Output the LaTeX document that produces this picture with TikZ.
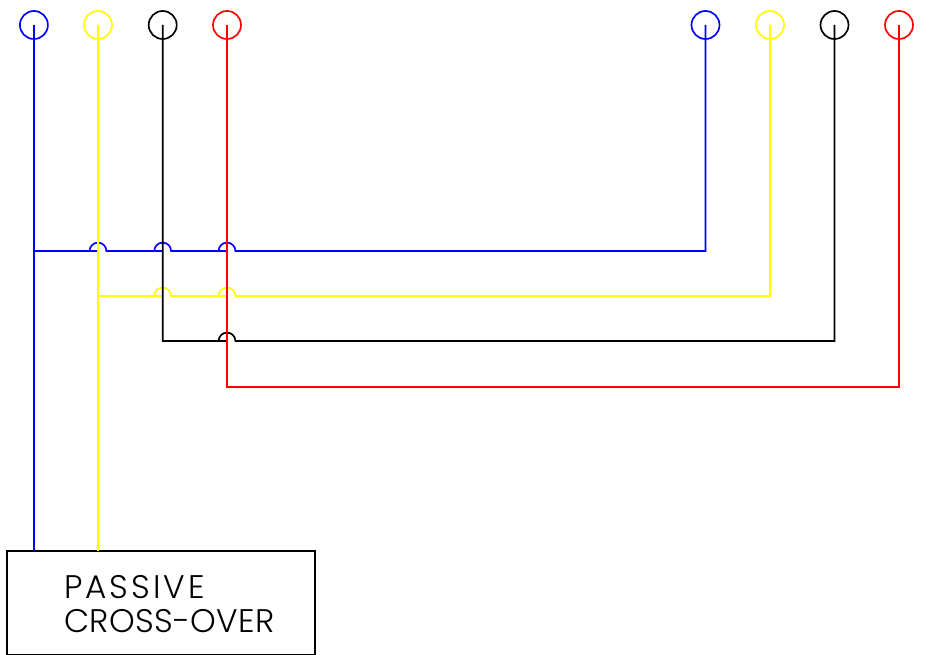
\documentclass[tikz,border=0pt]{standalone}
\usepackage{fontspec}
\setmainfont{Poppins Light}
\newfontfamily\lineA{Poppins Light}[LetterSpace=9]
\newfontfamily\lineB{Poppins Light}[LetterSpace=1]
\definecolor{wblue}{RGB}{0,0,255}
\definecolor{wyellow}{RGB}{255,255,0}
\definecolor{wred}{RGB}{255,0,0}
\tikzset{
  terminal/.style={circle,draw=#1,line width=1.25pt,minimum size=21pt,inner sep=0pt,outer sep=0pt},
  wire/.style={draw=#1,line width=1.25pt,line join=miter},
  crossbox/.style={draw=black,line width=1.25pt,minimum width=231pt,minimum height=78pt,inner sep=0pt,outer sep=0pt},
  crosslabel/.style={align=left,inner sep=0pt,font=\fontsize{24.5pt}{25.1pt}\selectfont}
}
% hop: a small half-circle step over a vertical wire
\newcommand{\hop}{-- ++(-8.4,0) arc[start angle=180,end angle=360,radius=8.4] }
\begin{document}
\begin{tikzpicture}[x=0.75pt,y=-0.75pt]
\useasboundingbox (0,0) rectangle (931,655);
\coordinate (b1) at (33.9,551.2);
\coordinate (b2) at (98,551.2);
\coordinate (j1) at (33.9,251);
\coordinate (j2) at (98,296);
\coordinate (j3) at (162.7,341);
\coordinate (j4) at (227,386.7);
\coordinate (e1) at (705.5,251);
\coordinate (e2) at (770,296);
\coordinate (e3) at (834.5,341);
\coordinate (e4) at (899,386.7);
\node[terminal=wblue]   (t1) at (33.9,25) {};
\node[terminal=wyellow] (t2) at (98,25) {};
\node[terminal=black]   (t3) at (162.7,25) {};
\node[terminal=wred]    (t4) at (227,25) {};
\node[terminal=wblue]   (t5) at (705.5,25) {};
\node[terminal=wyellow] (t6) at (770,25) {};
\node[terminal=black]   (t7) at (834.5,25) {};
\node[terminal=wred]    (t8) at (899,25) {};
\node[crossbox,anchor=north west] (box) at (7.2,551.2) {};
\node[crosslabel,anchor=west] (lbl) at (64,604) {{\lineA PASSIVE}\\{\lineB CROSS-OVER}};
% blue
\draw[wire=wblue] (j1) -- (98,251) \hop -- (162.7,251) \hop -- (227,251) \hop -- (e1) -- (t5.center);
\draw[wire=wblue] (t1.center) -- (j1) -- (b1);
% yellow
\draw[wire=wyellow] (t2.center) -- (b2);
\draw[wire=wyellow] (j2) -- (162.7,296) \hop -- (227,296) \hop -- (e2) -- (t6.center);
% black
\draw[wire=black] (t3.center) -- (j3) -- (227,341) \hop -- (e3) -- (t7.center);
% red
\draw[wire=wred] (t4.center) -- (j4) -- (e4) -- (t8.center);
\end{tikzpicture}
\end{document}
